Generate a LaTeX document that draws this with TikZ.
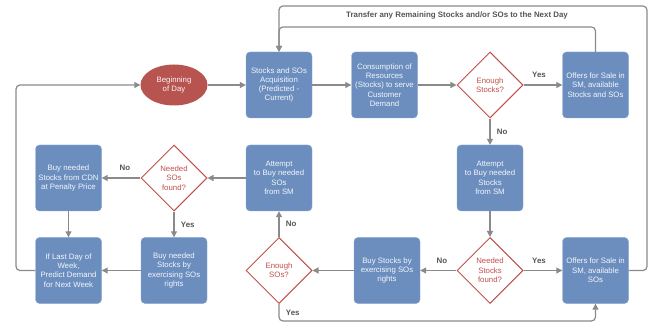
\documentclass[tikz,border=0pt]{standalone}
\usepackage{fontspec}
\setmainfont{Liberation Sans}
\usepackage{xcolor}
\usetikzlibrary{arrows.meta,shapes.geometric}
\definecolor{boxblue}{HTML}{6C8EBF}
\definecolor{boxedge}{HTML}{8AA6CF}
\definecolor{decred}{HTML}{C0504D}
\definecolor{startred}{HTML}{B85450}
\definecolor{linegray}{HTML}{8A8A8A}
\definecolor{labelgray}{HTML}{555555}

\begin{document}
\begin{tikzpicture}[
    x=1pt, y=-1pt,
    every node/.style={font=\fontsize{7.8}{9.3}\selectfont, align=center},
    process/.style={draw=boxedge, fill=boxblue, rounded corners=4pt, minimum width=66pt, minimum height=66pt, text=white!92!boxblue, inner sep=1pt},
    decision/.style={diamond, draw=decred, fill=white, line width=1pt, minimum width=66pt, minimum height=66pt, aspect=1, text=decred, inner sep=0pt},
    start/.style={ellipse, fill=startred, minimum width=67pt, minimum height=41pt, text=white!94!startred},
    flow/.style={draw=linegray, line width=1.2pt, rounded corners=4pt, -{Triangle[length=6pt,width=6pt]}},
    answer/.style={font=\fontsize{7.9}{9.5}\selectfont\bfseries, text=labelgray}
]
\useasboundingbox (0,0) rectangle (654,326);

\node[start] (begin) at (174,85) {Beginning\\of Day};
\node[process] (acquire) at (279,85) {Stocks and SOs\\Acquisition\\(Predicted -\\Current)};
\node[process] (consume) at (384.5,85) {Consumption of\\Resources\\(Stocks) to serve\\Customer\\Demand};
\node[decision] (enoughstocks) at (490,85) {Enough\\Stocks?};
\node[process] (offerall) at (595.5,85) {Offers for Sale in\\SM, available\\Stocks and SOs};

\node[process] (buycdn) at (68.5,178) {Buy needed\\Stocks from CDN\\at Penalty Price};
\node[decision] (neededsos) at (174,178) {Needed\\SOs\\found?};
\node[process] (attemptsos) at (279,178) {Attempt\\to Buy needed\\SOs\\from SM};
\node[process] (attemptstocks) at (490,178) {Attempt\\to Buy needed\\Stocks\\from SM};

\node[process] (lastday) at (68.5,270.5) {If Last Day of\\Week,\\Predict Demand\\for Next Week};
\node[process] (exercise) at (174,270.5) {Buy needed\\Stocks by\\exercising SOs\\rights};
\node[decision] (enoughsos) at (279,270.5) {Enough\\SOs?};
\node[process] (buystocks) at (387,270.5) {Buy Stocks by\\exercising SOs\\rights};
\node[decision] (neededstocks) at (490,270.5) {Needed\\Stocks\\found?};
\node[process] (offersos) at (595.5,270.5) {Offers for Sale in\\SM, available\\SOs};

\coordinate (leftlane) at (16,0);
\coordinate (rightlane) at (647,0);
\coordinate (toplane) at (0,6);
\coordinate (innerlane) at (0,27);
\coordinate (bottomlane) at (0,321);

\node[answer] (transfer) at (457,15) {Transfer any Remaining Stocks and/or SOs to the Next Day};

\draw[flow] (begin) -- (acquire);
\draw[flow] (acquire) -- (consume);
\draw[flow] (consume) -- (enoughstocks);
\draw[flow] (enoughstocks) -- node[answer, above=3pt, pos=0.4] (yesoffer) {Yes} (offerall);
\draw[flow] (enoughstocks) -- node[answer, right=3pt] (noattempt) {No} (attemptstocks);
\draw[flow] (attemptstocks) -- (neededstocks);
\draw[flow] (neededstocks) -- node[answer, above=3pt, pos=0.4] (yessell) {Yes} (offersos);
\draw[flow] (neededstocks) -- node[answer, above=3pt, pos=0.4] (nobuy) {No} (buystocks);
\draw[flow] (buystocks) -- (enoughsos);
\draw[flow] (enoughsos) -- node[answer, right=3pt] (nosos) {No} (attemptsos);
\draw[flow] (enoughsos.south) -- node[answer, right=3pt, pos=0.5] (yessos) {Yes} (enoughsos.south |- bottomlane) -| (offersos.south);
\draw[flow] (attemptsos) -- (neededsos);
\draw[flow] (neededsos) -- node[answer, above=3pt, pos=0.4] (nocdn) {No} (buycdn);
\draw[flow] (neededsos) -- node[answer, right=3pt] (yesexercise) {Yes} (exercise);
\draw[flow] (buycdn) -- (lastday);
\draw[flow] (exercise) -- (lastday);
\draw[flow] (lastday.west) -- (lastday.west -| leftlane) |- (begin.west);
\draw[flow] (offerall.north) |- (acquire.north |- innerlane) -- (acquire.north);
\draw[flow] (offersos.east) -| (rightlane |- toplane) -| (acquire.north);
\end{tikzpicture}
\end{document}
